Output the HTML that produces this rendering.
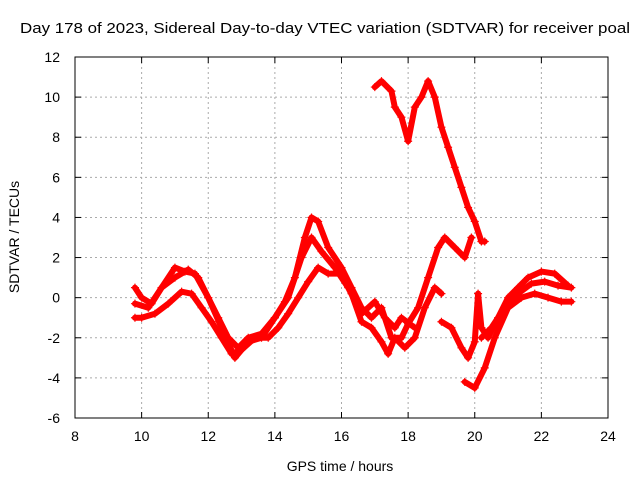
<!DOCTYPE html>
<html><head><meta charset="utf-8"><style>
body{margin:0;background:#fff}
svg text{font-family:"Liberation Sans",sans-serif;fill:#000}
</style></head><body>
<svg id="c" width="640" height="480" xmlns="http://www.w3.org/2000/svg">
<text x="20" y="33" font-size="15" textLength="610" lengthAdjust="spacingAndGlyphs">Day 178 of 2023, Sidereal Day-to-day VTEC variation (SDTVAR) for receiver poal</text>
<text x="340" y="471" font-size="14" text-anchor="middle">GPS time / hours</text>
<text x="0" y="0" font-size="14" text-anchor="middle" transform="translate(19,237) rotate(-90)">SDTVAR / TECUs</text>
<g id="grid"></g><g id="ticks"></g><g id="series"></g>
<rect x="75" y="57" width="533" height="361" fill="none" stroke="#000"/>
</svg>
<script>
const xTicks=[8,10,12,14,16,18,20,22,24];
const yTicks=[-6,-4,-2,0,2,4,6,8,10,12];
const seriesA=[[9.8,0.5],[10,0],[10.3,-0.3],[10.6,0.5],[11,1.5],[11.3,1.3],[11.6,1.2],[12,0],[12.3,-1],[12.6,-2],[12.9,-2.5],[13.2,-2],[13.6,-1.8],[14,-1],[14.3,-0.2],[14.6,1],[14.9,3],[15.1,4],[15.3,3.8],[15.6,2.5],[16,1.5],[16.3,0.5],[16.6,-0.5],[16.9,-1],[17.2,-0.5],[17.5,-2],[17.8,-2],[18,-1.3],[18.3,-0.5],[18.6,1],[18.9,2.5],[19.1,3],[19.4,2.5],[19.7,2],[19.9,3]];
const seriesB=[[9.8,-1],[10,-1],[10.4,-0.8],[10.8,-0.3],[11.2,0.3],[11.5,0.2],[11.8,-0.5],[12.1,-1.2],[12.4,-2],[12.7,-2.8],[13,-2.6],[13.4,-2],[13.8,-2],[14.1,-1.5],[14.4,-0.8],[14.7,0],[15,0.8],[15.3,1.5],[15.6,1.2],[16,1.2],[16.3,0.2],[16.6,-1.2],[16.9,-1.5],[17.2,-2.2],[17.4,-2.8],[17.6,-2],[17.9,-2.5],[18.2,-2],[18.5,-0.5],[18.8,0.5],[19,0.2]];
const seriesC=[[9.8,-0.3],[10.2,-0.5],[10.6,0.5],[11,1],[11.4,1.4],[11.7,1],[12,0],[12.4,-1.5],[12.8,-3],[13.2,-2.2],[13.6,-2],[14,-1],[14.4,0],[14.8,2],[15.1,3],[15.4,2.3],[15.8,1.5],[16.2,0.5],[16.6,-0.8],[17,-0.2],[17.3,-1],[17.6,-1.5],[17.8,-1],[18.2,-1.5]];
const seriesD=[[17,10.5],[17.2,10.8],[17.5,10.3],[17.6,9.5],[17.8,9],[18,7.8],[18.2,9.5],[18.4,10],[18.6,10.8],[18.8,10],[19,8.5],[19.2,7.5],[19.4,6.5],[19.6,5.5],[19.8,4.5],[20,3.8],[20.2,2.8],[20.3,2.8]];
const seriesE=[[19,-1.2],[19.3,-1.5],[19.6,-2.5],[19.8,-3],[20,-2.2],[20.1,0.2],[20.2,-1.5],[20.4,-2],[20.7,-1],[21,0],[21.3,0.5],[21.6,1],[22,1.3],[22.4,1.2],[22.8,0.6]];
const seriesF=[[19.7,-4.2],[20,-4.5],[20.3,-3.5],[20.6,-2],[21,-0.5],[21.4,0],[21.8,0.2],[22.2,0],[22.6,-0.2],[22.9,-0.2]];
const seriesG=[[20.2,-2],[20.5,-1.5],[20.9,-0.5],[21.3,0.2],[21.7,0.7],[22.1,0.8],[22.5,0.6],[22.9,0.5]];
const allSeries=[seriesA,seriesB,seriesC,seriesD,seriesE,seriesF,seriesG];
const NS="http://www.w3.org/2000/svg";
const X0=75,X1=608,Y0=418,Y1=57;
function sx(v){return X0+(v-8)/16*(X1-X0);}
function sy(v){return Y0-(v+6)/18*(Y0-Y1);}
function mk(t,a,p){const e=document.createElementNS(NS,t);for(const k in a)e.setAttribute(k,a[k]);p.appendChild(e);return e;}
const grid=document.getElementById('grid'),ticks=document.getElementById('ticks'),ser=document.getElementById('series');
xTicks.forEach(v=>{const x=sx(v);
 if(v>8&&v<24){const g=mk('line',{x1:x,x2:x,y1:Y1,y2:Y0,stroke:'#aaa','stroke-dasharray':'2,3'},grid);
 
 }
 const t=mk('text',{x:x,y:441,'font-size':14,'text-anchor':'middle'},ticks);t.textContent=v;
 
 
 mk('line',{x1:x,x2:x,y1:Y0,y2:Y0-6,stroke:'#000'},ticks);mk('line',{x1:x,x2:x,y1:Y1,y2:Y1+6,stroke:'#000'},ticks);});
yTicks.forEach(v=>{const y=sy(v);
 if(v>-6&&v<12){const g=mk('line',{x1:X0,x2:X1,y1:y,y2:y,stroke:'#aaa','stroke-dasharray':'2,3'},grid);
 
 }
 const t=mk('text',{x:60,y:y+5,'font-size':14,'text-anchor':'end'},ticks);t.textContent=v;
 
 
 mk('line',{x1:X0,x2:X0+6,y1:y,y2:y,stroke:'#000'},ticks);mk('line',{x1:X1,x2:X1-6,y1:y,y2:y,stroke:'#000'},ticks);});
allSeries.forEach((s,i)=>{
 const pl=mk('polyline',{points:s.map(p=>sx(p[0])+','+sy(p[1])).join(' '),fill:'none',stroke:'#f00','stroke-width':6,'stroke-linejoin':'round','stroke-linecap':'round'},ser);
 
 
 s.forEach(p=>{const x=sx(p[0]),y=sy(p[1]);
  const m=mk('path',{d:`M${x-4},${y}H${x+4}M${x},${y-4}V${y+4}`,stroke:'#f00','stroke-width':1.2},ser);
  
  });
});
</script>
</body></html>
